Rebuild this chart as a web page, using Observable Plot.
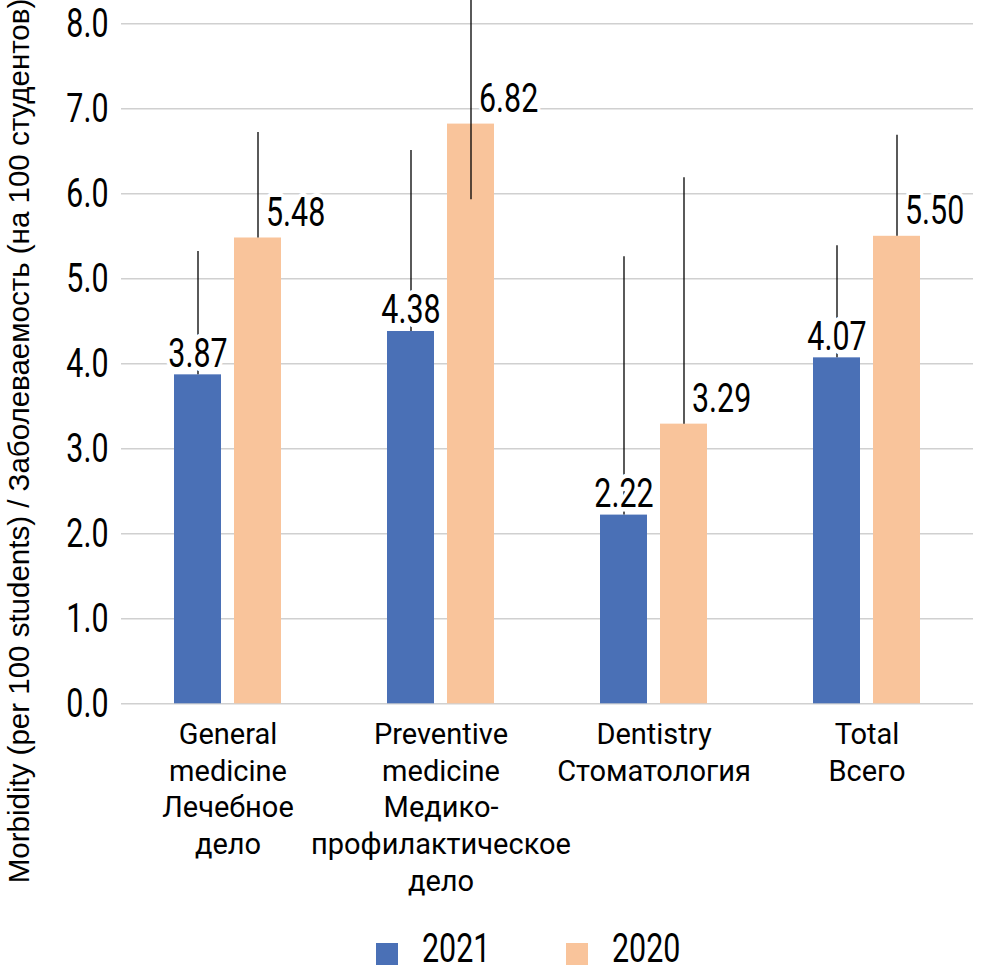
<!DOCTYPE html>
<html><head><meta charset="utf-8">
<script src="https://cdn.jsdelivr.net/npm/d3@7"></script>
<script src="https://cdn.jsdelivr.net/npm/@observablehq/plot@0.6"></script>
<style>
body{margin:0;background:#fff;}
#wrap{width:996px;}
.legend{display:flex;align-items:flex-start;height:57px;padding-left:376px;box-sizing:border-box;padding-top:9px;
  font-family:Roboto,sans-serif;font-size:40px;line-height:1;color:#000;}
.item{display:flex;align-items:flex-start;width:190px;}
.sw{width:22px;height:22px;margin-top:14px;margin-right:24px;flex:none;}
.lbl{display:inline-block;transform:scaleX(0.76);transform-origin:left center;}
</style></head><body><div id="wrap"></div>
<script>
const categories = [
  "General\nmedicine\nЛечебное\nдело",
  "Preventive\nmedicine\nМедико-\nпрофилактическое\nдело",
  "Dentistry\nСтоматология",
  "Total\nВсего"
];
const years = ["2021", "2020"];
const values2021 = [3.87, 4.38, 2.22, 4.07];
const values2020 = [5.48, 6.82, 3.29, 5.50];
const errLow2021 = [3.87, 4.38, 2.22, 4.07];
const errHigh2021 = [5.32, 6.51, 5.26, 5.39];
const errLow2020 = [5.48, 5.93, 3.29, 5.50];
const errHigh2020 = [6.72, 8.30, 6.19, 6.69];
const yTicks = [0, 1, 2, 3, 4, 5, 6, 7, 8];
const yTitle = "Morbidity (per 100 students) / Заболеваемость (на 100 студентов)";
const colors = ["#4a70b6", "#f9c49b"];

const rows = [];
categories.forEach((c, i) => {
  rows.push({cat: c, year: years[0], value: values2021[i], low: errLow2021[i], high: errHigh2021[i]});
  rows.push({cat: c, year: years[1], value: values2020[i], low: errLow2020[i], high: errHigh2020[i]});
});

const H = 920;
const numScale = 0.76;
const chart = Plot.plot({
  width: 996, height: H,
  marginLeft: 119, marginRight: 22, marginTop: 0, marginBottom: H - 703.3,
  style: {fontFamily: "Roboto, sans-serif", background: "white", color: "black"},
  fx: {domain: categories, padding: 0, label: null},
  x: {domain: years, paddingInner: 0.213, paddingOuter: 0.8585, axis: null},
  y: {domain: [0, 8.274], axis: null},
  color: {domain: years, range: colors},
  marks: [
    Plot.ruleY(yTicks, {y: d => d, stroke: "#d0d0d0", strokeWidth: 1.5}),
    Plot.barY(rows, {fx: "cat", x: "year", y: "value", fill: "year"}),
    Plot.ruleX(rows, {fx: "cat", x: "year", y1: "low", y2: "high", stroke: "black", strokeWidth: 1.3}),
    Plot.text(rows.filter(d => d.year === years[0]), {
      fx: "cat", x: "year", y: "value", text: d => d.value.toFixed(2),
      lineAnchor: "bottom", dy: -8, fontSize: 40, fill: "black",
      stroke: "white", strokeWidth: 9, paintOrder: "stroke"
    }),
    Plot.text(rows.filter(d => d.year === years[1]), {
      fx: "cat", x: "year", y: "value", text: d => d.value.toFixed(2),
      lineAnchor: "bottom", textAnchor: "start", dx: 8, dy: -12, fontSize: 40, fill: "black",
      stroke: "white", strokeWidth: 8, paintOrder: "stroke"
    }),
    Plot.axisY(yTicks, {tickFormat: d3.format(".1f"), tickSize: 0, tickPadding: 13, fontSize: 40, label: null}),
    Plot.axisFx({anchor: "bottom", tickSize: 0, tickPadding: 14, fontSize: 29, lineHeight: 1.265, label: null})
  ]
});

// condense the numeric texts horizontally around their anchor points
d3.select(chart).selectAll("text")
  .filter(function () { return /^\d+\.\d+$/.test(this.textContent.trim()); })
  .each(function () {
    const el = d3.select(this);
    const t = el.attr("transform");
    const x = +el.attr("x") || 0, y = +el.attr("y") || 0;
    const base = t ? t + " " : "";
    el.attr("transform", `${base}translate(${x},${y}) scale(${numScale},1) translate(${-x},${-y})`);
  });

d3.select(chart).append("text")
  .attr("transform", "translate(29,441) rotate(-90)")
  .attr("text-anchor", "middle")
  .style("font-family", '"Liberation Sans", Arial, sans-serif')
  .style("font-size", "29.5px")
  .attr("fill", "black")
  .text(yTitle);

const wrap = document.getElementById("wrap");
wrap.appendChild(chart);

const legend = document.createElement("div");
legend.className = "legend";
years.forEach((y, i) => {
  const item = document.createElement("div");
  item.className = "item";
  const sw = document.createElement("span");
  sw.className = "sw";
  sw.style.background = colors[i];
  const lbl = document.createElement("span");
  lbl.className = "lbl";
  lbl.textContent = y;
  item.appendChild(sw); item.appendChild(lbl);
  legend.appendChild(item);
});
wrap.appendChild(legend);
</script></body></html>
